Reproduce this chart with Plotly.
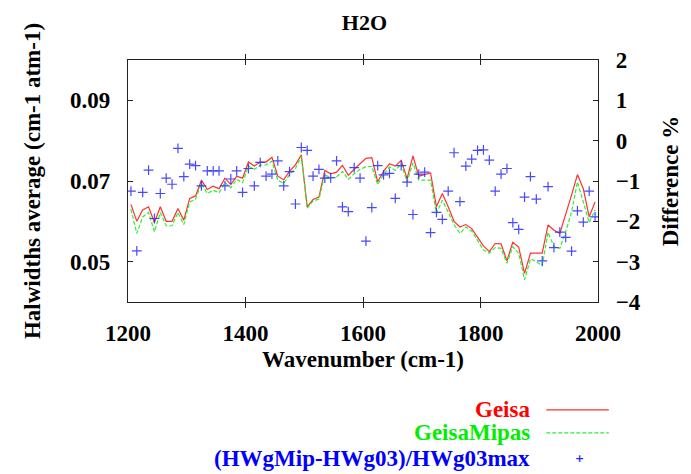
import plotly.graph_objects as go

wavenumber = [1205, 1215, 1225, 1235, 1245, 1255, 1265, 1275, 1285, 1295,
              1305, 1315, 1325, 1335, 1345, 1355, 1365, 1375, 1385, 1395,
              1405, 1415, 1425, 1435, 1445, 1455, 1465, 1475, 1485, 1495,
              1505, 1515, 1525, 1535, 1545, 1555, 1565, 1575, 1585, 1595,
              1605, 1615, 1625, 1635, 1645, 1655, 1665, 1675, 1685, 1695,
              1705, 1715, 1725, 1735, 1745, 1755, 1765, 1775, 1785, 1795,
              1805, 1815, 1825, 1835, 1845, 1855, 1865, 1875, 1885, 1895,
              1905, 1915, 1925, 1935, 1945, 1955, 1965, 1975, 1985, 1995]

geisa = [0.0642, 0.0600, 0.0628, 0.0636, 0.0597, 0.0636, 0.0600, 0.0600, 0.0632, 0.0603,
         0.0657, 0.0663, 0.0702, 0.0679, 0.0687, 0.0681, 0.0707, 0.0691, 0.0712, 0.0707,
         0.0747, 0.0737, 0.0747, 0.0747, 0.0759, 0.0712, 0.0703, 0.0724, 0.0740, 0.0765,
         0.0636, 0.0654, 0.0660, 0.0726, 0.0718, 0.0722, 0.0739, 0.0714, 0.0729, 0.0743,
         0.0756, 0.0758, 0.0698, 0.0724, 0.0743, 0.0737, 0.0751, 0.0706, 0.0762, 0.0712,
         0.0716, 0.0720, 0.0636, 0.0669, 0.0636, 0.0600, 0.0586, 0.0592, 0.0582, 0.0559,
         0.0539, 0.0525, 0.0545, 0.0544, 0.0502, 0.0548, 0.0536, 0.0471, 0.0521, 0.0521,
         0.0521, 0.0591, 0.0578, 0.0570, 0.0615, 0.0665, 0.0716, 0.0681, 0.0611, 0.0648]

geisa_mipas = [0.0630, 0.0570, 0.0611, 0.0622, 0.0574, 0.0622, 0.0589, 0.0589, 0.0622, 0.0592,
               0.0648, 0.0655, 0.0694, 0.0669, 0.0677, 0.0671, 0.0696, 0.0683, 0.0704, 0.0696,
               0.0737, 0.0729, 0.0739, 0.0740, 0.0749, 0.0702, 0.0694, 0.0716, 0.0731, 0.0762,
               0.0633, 0.0650, 0.0655, 0.0716, 0.0707, 0.0710, 0.0724, 0.0704, 0.0718, 0.0729,
               0.0735, 0.0736, 0.0691, 0.0716, 0.0735, 0.0726, 0.0743, 0.0698, 0.0745, 0.0702,
               0.0702, 0.0702, 0.0620, 0.0652, 0.0623, 0.0592, 0.0570, 0.0586, 0.0576, 0.0554,
               0.0529, 0.0521, 0.0535, 0.0533, 0.0496, 0.0537, 0.0521, 0.0455, 0.0507, 0.0500,
               0.0490, 0.0573, 0.0537, 0.0533, 0.0574, 0.0623, 0.0698, 0.0648, 0.0597, 0.0628]

difference_pct = [-1.25, -2.73, -1.28, -0.73, -1.93, -1.31, -0.93, -1.08, -0.19, -0.89,
                  -0.58, -0.62, -1.12, -0.75, -0.75, -0.75, -1.12, -0.95, -0.75, -1.28,
                  -0.69, -1.12, -0.54, -0.88, -0.83, -0.50, -1.12, -0.77, -1.57, -0.17,
                  -0.24, -0.88, -0.71, -0.93, -0.92, -0.50, -1.64, -1.76, -0.67, -0.93,
                  -2.49, -1.66, -0.62, -0.85, -0.81, -1.43, -0.62, -1.03, -1.83, -0.83,
                  -0.78, -2.28, -1.78, -1.95, -1.25, -0.30, -1.51, -0.63, -0.46, -0.24,
                  -0.23, -0.48, -1.25, -0.83, -0.69, -2.03, -2.20, -1.40, -0.89, -1.45,
                  -2.98, -1.14, -2.65, -2.27, -2.40, -2.74, -1.74, -2.02, -1.25, -1.89]

x_ticks = [1200, 1400, 1600, 1800, 2000]
y_ticks = [0.05, 0.07, 0.09]
y2_ticks = [2, 1, 0, -1, -2, -3, -4]

series_names = ["Geisa", "GeisaMipas", "(HWgMip-HWg03)/HWg03max"]
series_colors = ["#ff0000", "#00ee00", "#0000ff"]

FONT = "Liberation Serif"
fig = go.Figure()
fig.add_trace(go.Scatter(x=wavenumber, y=geisa, mode="lines", name=series_names[0],
                         line=dict(color="#ff3030", width=1.2)))
fig.add_trace(go.Scatter(x=wavenumber, y=geisa_mipas, mode="lines", name=series_names[1],
                         line=dict(color="#30ee30", width=1.2, dash="4px,2px")))
fig.add_trace(go.Scatter(x=wavenumber, y=difference_pct, mode="markers", name=series_names[2],
                         yaxis="y2",
                         marker=dict(symbol="cross-thin", size=7,
                                     line=dict(color="rgba(40,40,255,0.85)", width=1.2))))

axis_common = dict(showline=True, linecolor="#222", linewidth=1.2, ticks="inside",
                   ticklen=5, tickcolor="#222", showgrid=False, zeroline=False,
                   tickfont=dict(family=FONT, size=23, color="black", weight="bold"))

# the page body has an 8px default margin, so the figure is sized to sit in the window
fig.update_layout(
    width=683, height=466,
    margin=dict(l=120, r=90, t=52, b=172),
    paper_bgcolor="white", plot_bgcolor="white",
    showlegend=False,
    font=dict(family=FONT, size=23, color="black", weight="bold"),
    title=dict(text="H2O", xref="paper", x=0.503, xanchor="center",
               yref="container", y=0.97, yanchor="middle",
               font=dict(family=FONT, size=22, color="black", weight="bold")),
    xaxis=dict(range=[1200, 2000], tickvals=x_ticks, mirror="allticks",
               ticklabelstandoff=10,
               title=dict(text="Wavenumber (cm-1)", standoff=6,
                          font=dict(family=FONT, size=23, weight="bold")),
               **axis_common),
    yaxis=dict(range=[0.04, 0.10], tickvals=y_ticks, tickformat=".2f",
               ticklabelstandoff=12,
               title=dict(text="Halwidths average (cm-1 atm-1)", standoff=22,
                          font=dict(family=FONT, size=23, weight="bold")),
               **axis_common),
    yaxis2=dict(range=[-4, 2], tickvals=y2_ticks, overlaying="y", side="right",
                ticklabelstandoff=12,
                title=dict(text="Difference %", standoff=22,
                           font=dict(family=FONT, size=23, weight="bold")),
                **axis_common),
)

# legend drawn gnuplot-style: right-aligned text with the sample to its right
legend_y = [-0.446, -0.541, -0.645]
for name, col, ly in zip(series_names, series_colors, legend_y):
    fig.add_annotation(xref="paper", yref="paper", x=0.8605, y=ly, text=name,
                       showarrow=False, xanchor="right", yanchor="middle",
                       font=dict(family=FONT, size=23, color=col, weight="bold"))
fig.add_shape(type="line", xref="paper", yref="paper", x0=0.890, x1=1.023,
              y0=legend_y[0], y1=legend_y[0], line=dict(color="#ff3030", width=1.2))
fig.add_shape(type="line", xref="paper", yref="paper", x0=0.890, x1=1.023,
              y0=legend_y[1], y1=legend_y[1], line=dict(color="#30ee30", width=1.2, dash="4px,2px"))
fig.add_annotation(xref="paper", yref="paper", x=0.960, y=legend_y[2], text="+",
                   showarrow=False, xanchor="center", yanchor="middle",
                   font=dict(family="DejaVu Sans", size=11, color="#2828ff"))

fig.write_html("out.html")
